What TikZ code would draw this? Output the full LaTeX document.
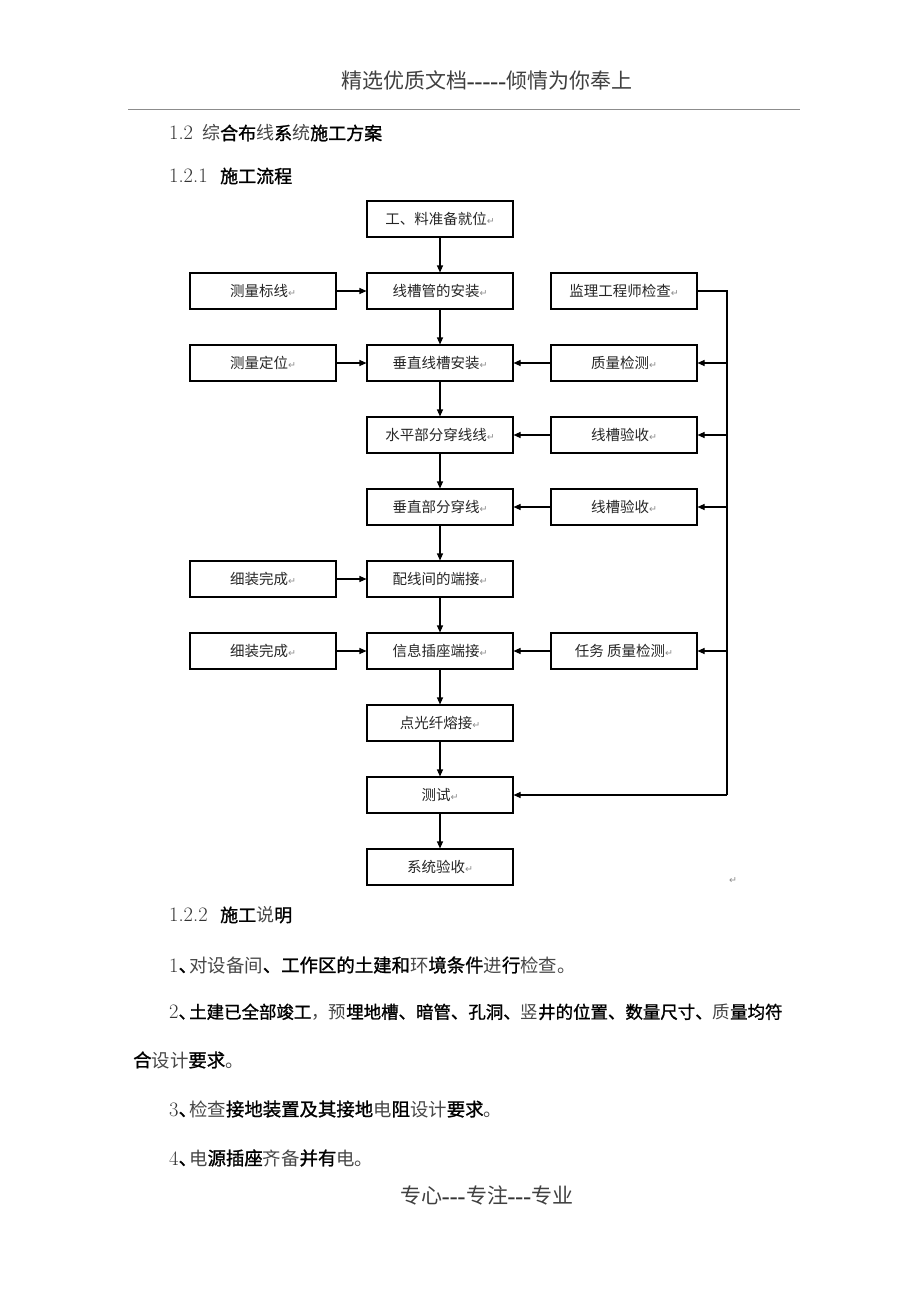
\documentclass[tikz,border=0pt]{standalone}
\usepackage{fontspec}
\newfontfamily\cjk{Noto Sans CJK SC}
\newfontfamily\cjkb[FakeBold=1.2]{Noto Sans CJK SC}
\newfontfamily\symf{DejaVu Sans}
\usetikzlibrary{arrows.meta}
\newcommand{\parmk}{{\symf\fontsize{9.5}{9.5}\selectfont\color{black!45}↵}}
\newcommand{\Lt}[1]{{\cjk\color{black!72}#1}}
\newcommand{\Bd}[1]{{\cjkb\color{black}#1}}
\newcommand{\Num}[1]{{\rmfamily\fontsize{20.5}{20.5}\selectfont\color{black!80}#1}}
\tikzset{
  box/.style={draw, line width=1.1pt, minimum width=146pt, minimum height=36pt, inner sep=0pt,
    font=\cjk\fontsize{14.5}{14.5}\selectfont, text=black!85},
  arr/.style={-{Triangle[length=7pt,width=6pt]}, line width=1.1pt},
  lin/.style={line width=1.1pt},
  head/.style={anchor=west, inner sep=0pt, font=\fontsize{18}{18}\selectfont},
  body/.style={anchor=west, inner sep=0pt, font=\fontsize{18.4}{18.4}\selectfont},
  bodyn/.style={anchor=west, inner sep=0pt, font=\fontsize{17.45}{17.45}\selectfont},
  pagetxt/.style={inner sep=0pt, font=\fontsize{21}{21}\selectfont}
}
\begin{document}
\begin{tikzpicture}[x=1pt,y=-1pt]
\useasboundingbox (0,0) rectangle (920,1302);
\fill[white] (0,0) rectangle (920,1302);
% page header
\node[pagetxt] (hdr) at (487,80) {{\cjk\color{black!75}精选优质文档}{\bfseries\color{black!80}-{}-{}-{}-{}-}{\cjk\color{black!75}倾情为你奉上}};
\draw[black!45, line width=1pt] (128,109) -- (800,109);
% headings
\node[head] (h12) at (169,133) {\makebox[33pt][l]{\Num{1.2}}\Lt{综}\Bd{合布}\Lt{线}\Bd{系}\Lt{统}\Bd{施工方案}};
\node[head] (h121) at (169,176) {\makebox[51pt][l]{\Num{1.2.1}}\Bd{施工流程}};
% flowchart
\node[box] (c1) at (440,219) {工、料准备就位\parmk};
\node[box] (c2) at (440,291) {线槽管的安装\parmk};
\node[box] (c3) at (440,363) {垂直线槽安装\parmk};
\node[box] (c4) at (440,435) {水平部分穿线线\parmk};
\node[box] (c5) at (440,507) {垂直部分穿线\parmk};
\node[box] (c6) at (440,579) {配线间的端接\parmk};
\node[box] (c7) at (440,651) {信息插座端接\parmk};
\node[box] (c8) at (440,723) {点光纤熔接\parmk};
\node[box] (c9) at (440,795) {测试\parmk};
\node[box] (c10) at (440,867) {系统验收\parmk};
\node[box] (l2) at (263,291) {测量标线\parmk};
\node[box] (l3) at (263,363) {测量定位\parmk};
\node[box] (l6) at (263,579) {细装完成\parmk};
\node[box] (l7) at (263,651) {细装完成\parmk};
\node[box] (r2) at (624,291) {监理工程师检查\parmk};
\node[box] (r3) at (624,363) {质量检测\parmk};
\node[box] (r4) at (624,435) {线槽验收\parmk};
\node[box] (r5) at (624,507) {线槽验收\parmk};
\node[box] (r7) at (624,651) {任务 质量检测\parmk};
\foreach \a/\b in {c1/c2,c2/c3,c3/c4,c4/c5,c5/c6,c6/c7,c7/c8,c8/c9,c9/c10}
  \draw[arr] (\a) -- (\b);
\foreach \a/\b in {l2/c2,l3/c3,l6/c6,l7/c7}
  \draw[arr] (\a) -- (\b);
\foreach \a/\b in {r3/c3,r4/c4,r5/c5,r7/c7}
  \draw[arr] (\a) -- (\b);
\coordinate (bt) at (727,291);
\coordinate (bb) at (727,795);
\draw[lin] (r2.east) -- (bt) -- (bb);
\draw[arr] (bb) -- (c9.east);
\foreach \r in {r3,r4,r5,r7}
  \draw[arr] (bt |- \r.east) -- (\r.east);
\node[inner sep=0pt] (pm) at (733,881) {\parmk};
% section 1.2.2
\node[head] (h122) at (169,915) {\makebox[51pt][l]{\Num{1.2.2}}\Bd{施工}\Lt{说}\Bd{明}};
\node[body] (t1) at (169,965) {\makebox[20pt][l]{\Num{1}\Bd{、}}\Lt{对设备间}\Bd{、工作区的土建和}\Lt{环}\Bd{境条件}\Lt{进}\Bd{行}\Lt{检查。}};
\node[bodyn] (t2) at (169,1012) {\makebox[20pt][l]{\Num{2}\Bd{、}}\Bd{土建已全部竣工}\Lt{，预}\Bd{埋地槽、暗管、孔洞、}\Lt{竖}\Bd{井的位置、数量尺寸、}\Lt{质}\Bd{量均符}};
\node[body] (t2b) at (133,1060) {\Bd{合}\Lt{设计}\Bd{要求}\Lt{。}};
\node[body] (t3) at (169,1109) {\makebox[20pt][l]{\Num{3}\Bd{、}}\Lt{检查}\Bd{接地装置及其接地}\Lt{电}\Bd{阻}\Lt{设计}\Bd{要求}\Lt{。}};
\node[body] (t4) at (169,1158) {\makebox[20pt][l]{\Num{4}\Bd{、}}\Lt{电}\Bd{源插座}\Lt{齐备}\Bd{并有}\Lt{电。}};
% footer
\node[pagetxt] (ftr) at (487,1195) {{\cjk\color{black!75}专心}{\bfseries\color{black!80}-{}-{}-}{\cjk\color{black!75}专注}{\bfseries\color{black!80}-{}-{}-}{\cjk\color{black!75}专业}};
\end{tikzpicture}
\end{document}
